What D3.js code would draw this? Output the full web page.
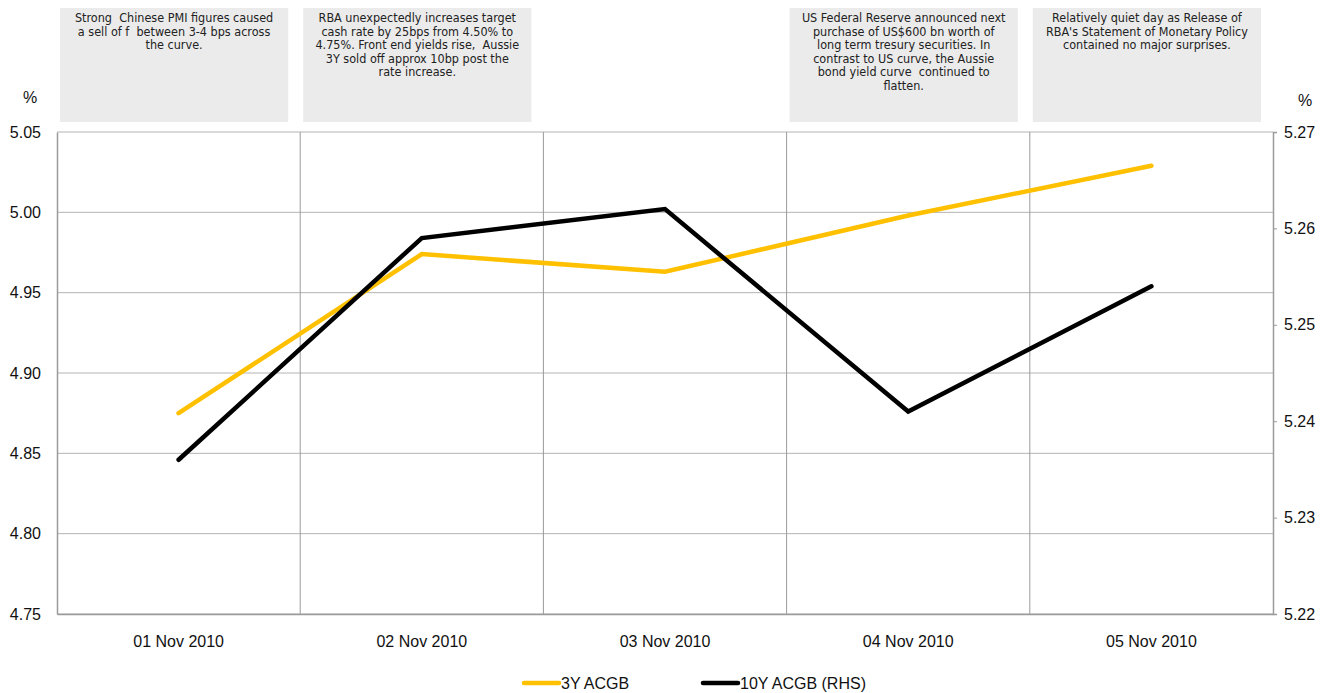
<!DOCTYPE html>
<html lang="en">
<head>
<meta charset="UTF-8">
<title>ACGB yields</title>
<style>
  body { margin: 0; background: #fff; }
  svg { display: block; }
  .tick text, .lbl { font-family: "Liberation Sans", Arial, sans-serif; font-size: 16px; fill: #111; }
  .note { font-family: "Liberation Sans Narrow", "DejaVu Sans Condensed", "Liberation Sans", sans-serif; font-size: 12.5px; fill: #222; white-space: pre; }
</style>
</head>
<body>
<div id="chart"></div>
<script src="https://d3js.org/d3.v7.min.js"></script>
<script>
// data
const dates = ["01 Nov 2010", "02 Nov 2010", "03 Nov 2010", "04 Nov 2010", "05 Nov 2010"];
const acgb3y = [4.875, 4.974, 4.963, 4.998, 5.029];
const acgb10y = [5.236, 5.259, 5.262, 5.241, 5.254];
const leftTicks = [4.75, 4.80, 4.85, 4.90, 4.95, 5.00, 5.05];
const rightTicks = [5.22, 5.23, 5.24, 5.25, 5.26, 5.27];
const notes = [
  ["Strong  Chinese PMI figures caused", "a sell of f  between 3-4 bps across", "the curve."],
  ["RBA unexpectedly increases target", "cash rate by 25bps from 4.50% to", "4.75%. Front end yields rise,  Aussie", "3Y sold off approx 10bp post the", "rate increase."],
  null,
  ["US Federal Reserve announced next", "purchase of US$600 bn worth of", "long term tresury securities. In", "contrast to US curve, the Aussie", "bond yield curve  continued to", "flatten."],
  ["Relatively quiet day as Release of", "RBA's Statement of Monetary Policy", "contained no major surprises."]
];

const W = 1331, H = 693;
const m = { left: 57, right: 1273, top: 132, bottom: 614 };

const svg = d3.select("#chart").append("svg")
    .attr("width", W)
    .attr("height", H);

const x = d3.scaleBand()
    .domain(dates)
    .range([m.left, m.right])
    .padding(0);

const yL = d3.scaleLinear().domain([4.75, 5.05]).range([m.bottom, m.top]);
const yR = d3.scaleLinear().domain([5.22, 5.27]).range([m.bottom, m.top]);

// annotation boxes
notes.forEach((lines, i) => {
    if (!lines) return;
    const x0 = x(dates[i]);
    const bw = x.bandwidth();
    const g = svg.append("g");
    g.append("rect")
        .attr("x", x0 + 3)
        .attr("y", 8)
        .attr("width", bw - 15)
        .attr("height", 114)
        .attr("fill", "#ebebeb");
    g.append("text")
        .attr("class", "note")
        .attr("text-anchor", "middle")
        .selectAll("tspan")
        .data(lines)
        .join("tspan")
        .attr("x", x0 + 3 + (bw - 15) / 2)
        .attr("y", (d, j) => 22 + j * 13.6)
        .text(d => d);
});

// horizontal gridlines
svg.append("g")
    .selectAll("line")
    .data(leftTicks)
    .join("line")
    .attr("x1", m.left)
    .attr("x2", m.right)
    .attr("y1", d => yL(d))
    .attr("y2", d => yL(d))
    .attr("stroke", "#b4b4b4")
    .attr("stroke-width", 1);

// vertical category separators
svg.append("g")
    .selectAll("line")
    .data(dates.slice(1))
    .join("line")
    .attr("x1", d => x(d))
    .attr("x2", d => x(d))
    .attr("y1", m.top)
    .attr("y2", m.bottom)
    .attr("stroke", "#9a9a9a")
    .attr("stroke-width", 1);

// left axis
const axL = svg.append("g")
    .attr("transform", `translate(${m.left},0)`)
    .call(d3.axisLeft(yL).tickValues(leftTicks).tickFormat(d3.format(".2f")).tickSize(0).tickPadding(16));
axL.select(".domain").attr("stroke", "#9a9a9a").attr("stroke-width", 1.5);

// right axis
const axR = svg.append("g")
    .attr("transform", `translate(${m.right},0)`)
    .call(d3.axisRight(yR).tickValues(rightTicks).tickFormat(d3.format(".2f")).tickSizeInner(4).tickSizeOuter(4).tickPadding(7));
axR.select(".domain").attr("stroke", "#9a9a9a").attr("stroke-width", 1.5);
axR.selectAll(".tick line").attr("stroke", "#9a9a9a");

// bottom axis
const axB = svg.append("g")
    .attr("transform", `translate(0,${m.bottom})`)
    .call(d3.axisBottom(x).tickSize(0).tickPadding(22));
axB.select(".domain").attr("stroke", "#9a9a9a").attr("stroke-width", 1.5);

svg.selectAll(".tick text").attr("font-family", null).attr("font-size", null);

// % unit labels
svg.append("text").attr("class", "lbl").attr("x", 30).attr("y", 103).attr("text-anchor", "middle").text("%");
svg.append("text").attr("class", "lbl").attr("x", 1305).attr("y", 106).attr("text-anchor", "middle").text("%");

// lines
const cx = d => x(d) + x.bandwidth() / 2;

svg.append("path")
    .datum(dates.map((d, i) => [d, acgb3y[i]]))
    .attr("fill", "none")
    .attr("stroke", "#ffc000")
    .attr("stroke-width", 4.5)
    .attr("stroke-linecap", "round")
    .attr("stroke-linejoin", "miter")
    .attr("d", d3.line().x(d => cx(d[0])).y(d => yL(d[1])));

svg.append("path")
    .datum(dates.map((d, i) => [d, acgb10y[i]]))
    .attr("fill", "none")
    .attr("stroke", "#000")
    .attr("stroke-width", 4.5)
    .attr("stroke-linecap", "round")
    .attr("stroke-linejoin", "miter")
    .attr("d", d3.line().x(d => cx(d[0])).y(d => yR(d[1])));

// legend
const legend = [
    { name: "3Y ACGB", color: "#ffc000", x: 524 },
    { name: "10Y ACGB (RHS)", color: "#000", x: 703 }
];
const lg = svg.append("g").selectAll("g").data(legend).join("g")
    .attr("transform", d => `translate(${d.x},683)`);
lg.append("line")
    .attr("x1", 0).attr("x2", 35)
    .attr("stroke", d => d.color)
    .attr("stroke-width", 4.5)
    .attr("stroke-linecap", "round");
lg.append("text")
    .attr("class", "lbl")
    .attr("x", 37)
    .attr("y", 6)
    .text(d => d.name);
</script>
</body>
</html>
